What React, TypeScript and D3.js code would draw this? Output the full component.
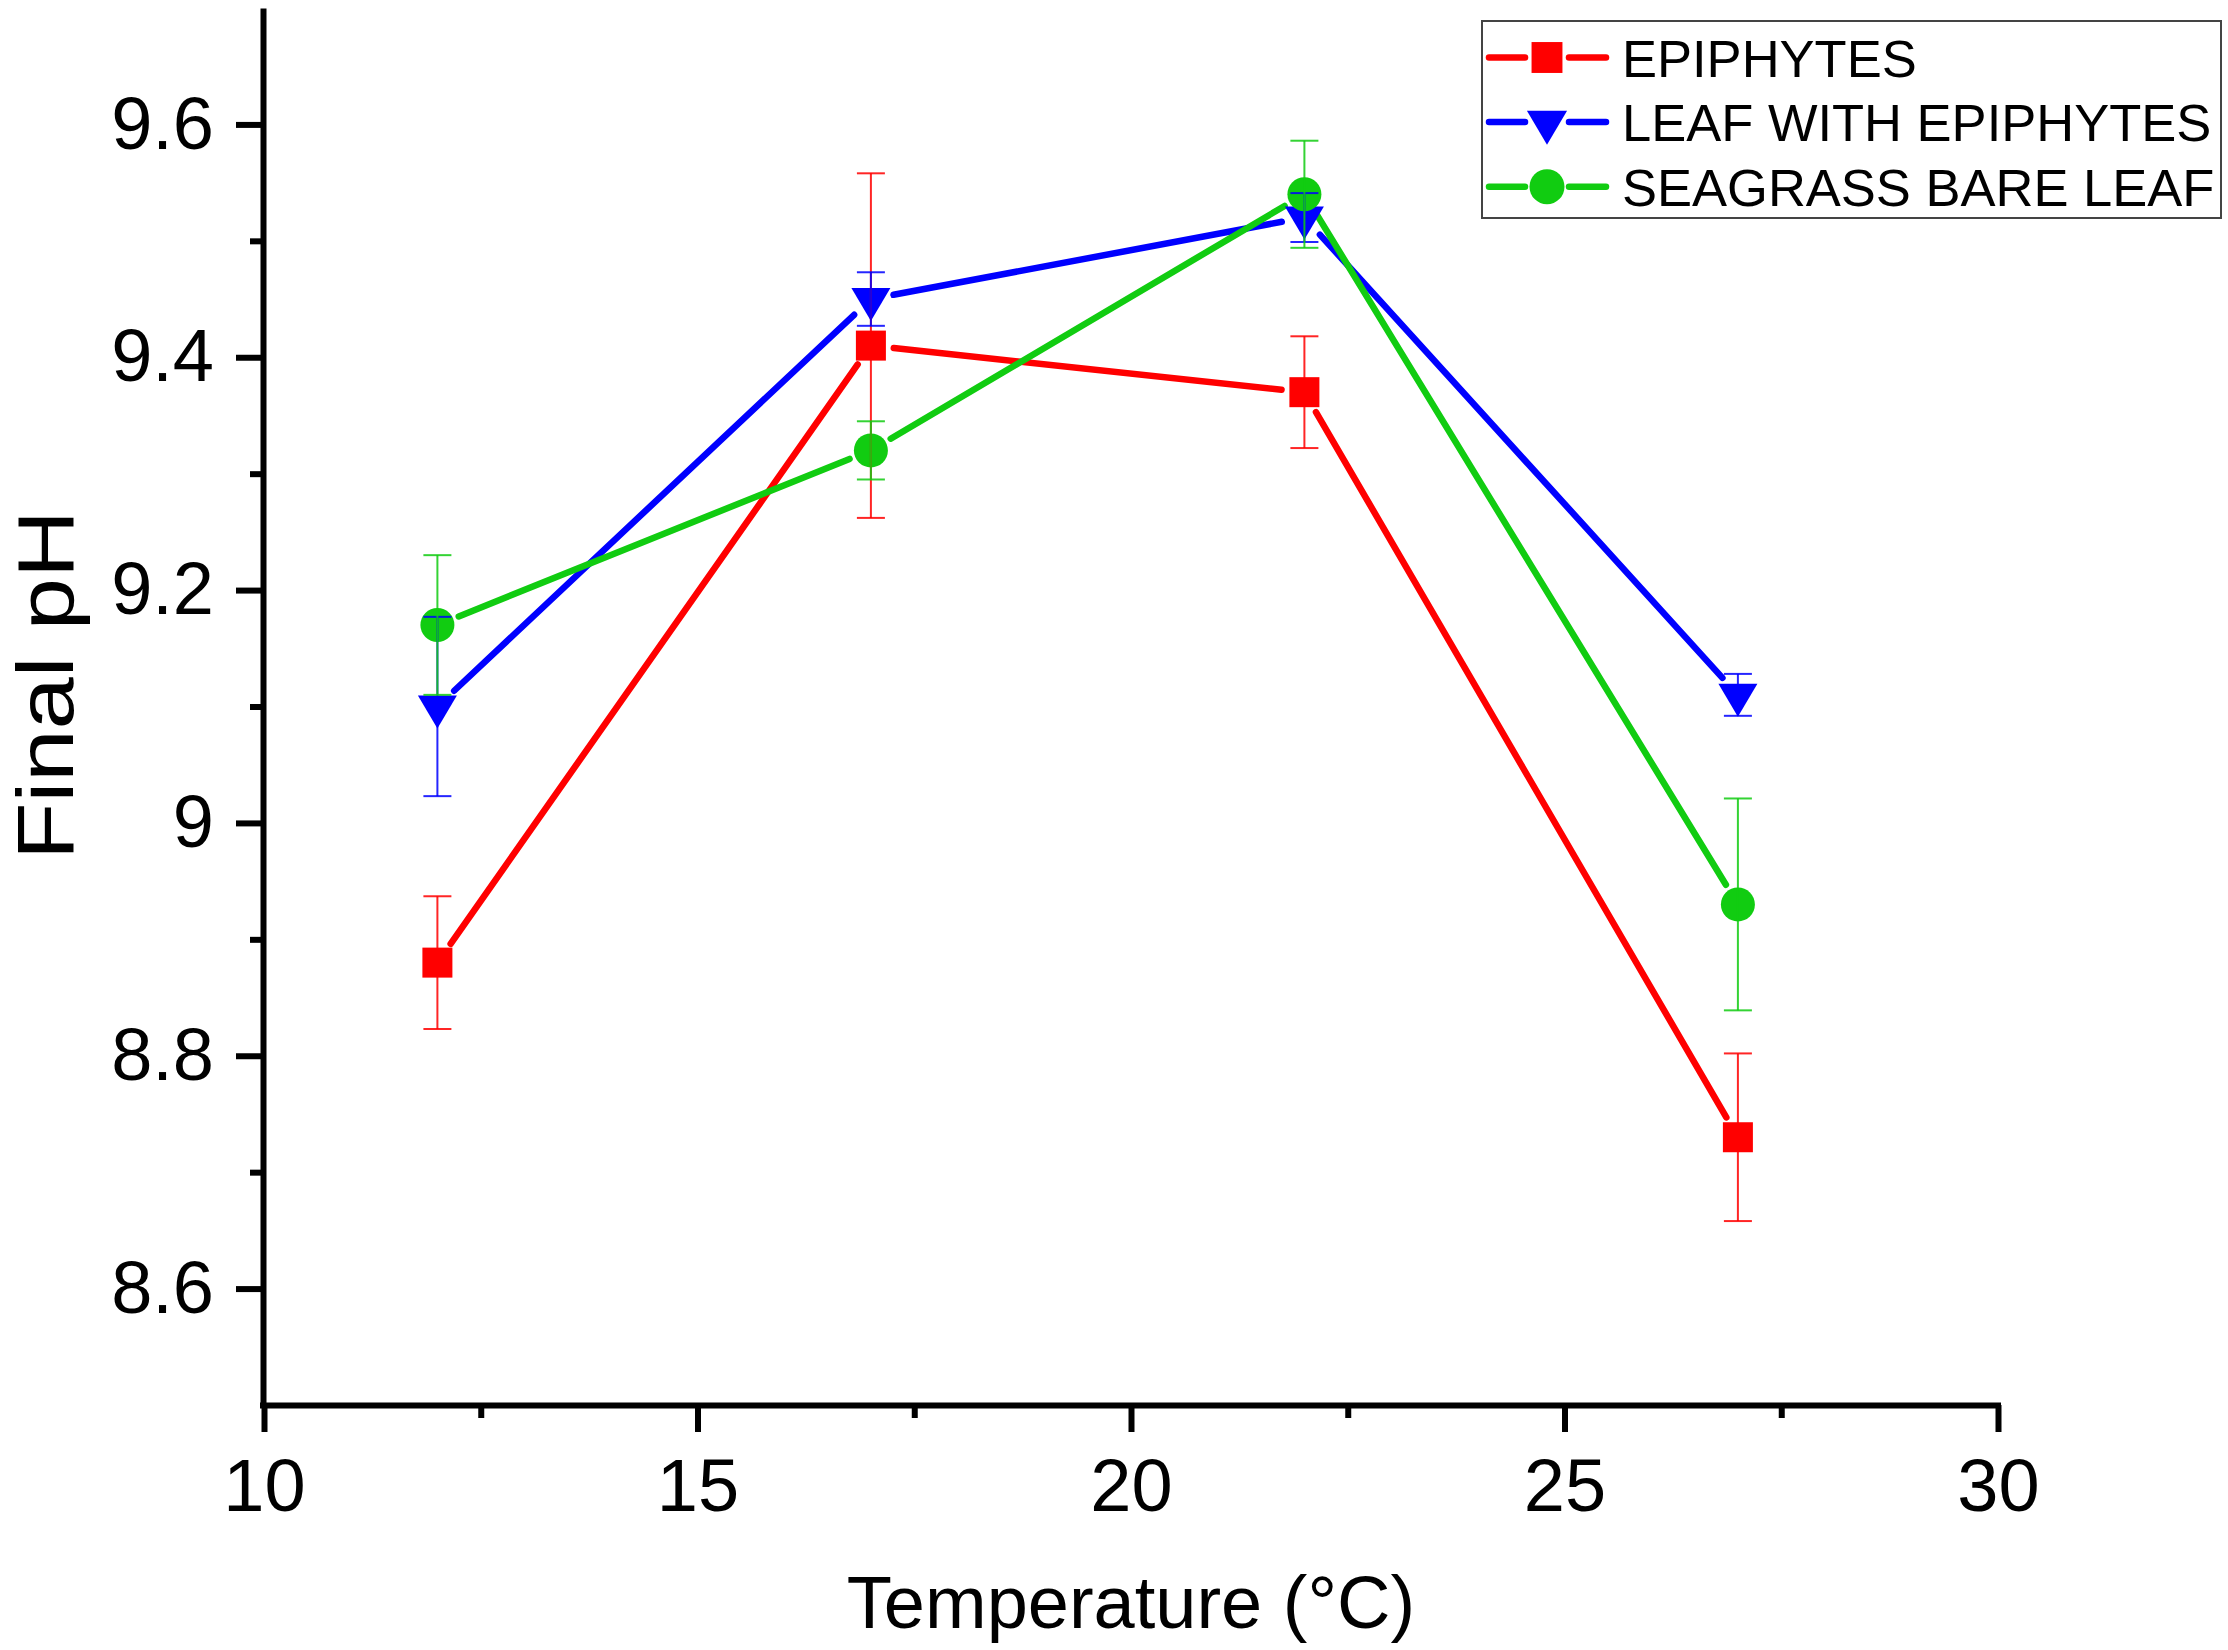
import { useEffect, useRef } from 'react'
import * as d3 from 'd3'

const temps = [12, 17, 22, 27]
const seriesNames = ['EPIPHYTES', 'LEAF WITH EPIPHYTES', 'SEAGRASS BARE LEAF']
const epiphytes = [8.88, 9.41, 9.37, 8.73]
const epiphytesErr = [0.057, 0.148, 0.048, 0.072]
const leafWithEpi = [9.1, 9.45, 9.52, 9.11]
const leafWithEpiErr = [0.077, 0.023, 0.021, 0.018]
const bareLeaf = [9.17, 9.32, 9.54, 8.93]
const bareLeafErr = [0.06, 0.025, 0.046, 0.091]
const seriesColors = ['#ff0000', '#0000ff', '#11cc11']
const seriesSymbols = ['square', 'triangle', 'circle']

const xTicks = [10, 15, 20, 25, 30]
const xMinor = [12.5, 17.5, 22.5, 27.5]
const yTicks = [8.6, 8.8, 9.0, 9.2, 9.4, 9.6]
const yMinor = [8.7, 8.9, 9.1, 9.3, 9.5]

const W = 2228, H = 1650
const FONT = '"Liberation Sans", Arial, Helvetica, sans-serif'

function drawSymbol(g: any, kind: string, cx: number, cy: number, color: string, size = 1) {
  if (kind === 'square') {
    const s = 30 * size
    g.append('rect').attr('x', cx - s / 2).attr('y', cy - s / 2).attr('width', s).attr('height', s).attr('fill', color)
  } else if (kind === 'triangle') {
    const w = 39 * size, h = 33 * size
    g.append('path')
      .attr('d', `M${cx - w / 2},${cy - h / 3}L${cx + w / 2},${cy - h / 3}L${cx},${cy + (2 * h) / 3}Z`)
      .attr('fill', color)
  } else {
    g.append('circle').attr('cx', cx).attr('cy', cy).attr('r', 17 * size).attr('fill', color)
  }
}

export default function App() {
  const svgRef = useRef<SVGSVGElement>(null)

  useEffect(() => {
    const svg = d3.select(svgRef.current)
    svg.selectAll('*').remove()
    svg.append('rect').attr('width', W).attr('height', H).attr('fill', '#fff')

    const x = d3.scaleLinear().domain([10, 30]).range([264, 1998])
    const y = d3.scaleLinear().domain([8.5, 9.7]).range([1405, 8])

    const values = [epiphytes, leafWithEpi, bareLeaf]
    const errs = [epiphytesErr, leafWithEpiErr, bareLeafErr]

    // Connecting lines, trimmed around the symbols
    const gap = 23
    values.forEach((vals, si) => {
      const pts = temps.map((t, i) => [x(t), y(vals[i])])
      for (let i = 0; i < pts.length - 1; i++) {
        const [x1, y1] = pts[i], [x2, y2] = pts[i + 1]
        const len = Math.hypot(x2 - x1, y2 - y1)
        const ux = (x2 - x1) / len, uy = (y2 - y1) / len
        svg.append('line')
          .attr('x1', x1 + ux * gap).attr('y1', y1 + uy * gap)
          .attr('x2', x2 - ux * gap).attr('y2', y2 - uy * gap)
          .attr('stroke', seriesColors[si]).attr('stroke-width', 6.5).attr('stroke-linecap', 'round')
      }
    })

    // Symbols
    values.forEach((vals, si) => {
      temps.forEach((t, i) => drawSymbol(svg, seriesSymbols[si], x(t), y(vals[i]), seriesColors[si]))
    })

    // Error bars on top
    values.forEach((vals, si) => {
      const c = seriesColors[si]
      temps.forEach((t, i) => {
        const px = x(t)
        const top = y(vals[i] + errs[si][i]), bot = y(vals[i] - errs[si][i])
        svg.append('line').attr('x1', px).attr('x2', px).attr('y1', top).attr('y2', bot)
          .attr('stroke', c).attr('stroke-width', 2).attr('opacity', 0.85)
        ;[top, bot].forEach((yy) => {
          svg.append('line').attr('x1', px - 14).attr('x2', px + 14).attr('y1', yy).attr('y2', yy)
            .attr('stroke', c).attr('stroke-width', 2).attr('opacity', 0.85)
        })
      })
    })

    // Axes
    const styleAxis = (a: any) => {
      a.selectAll('path').attr('stroke', '#000').attr('stroke-width', 6)
      a.selectAll('line').attr('stroke', '#000').attr('stroke-width', 6)
      a.selectAll('text').attr('fill', '#000').attr('font-size', 74).attr('font-family', FONT)
    }

    const yAxis = svg.append('g').attr('transform', 'translate(263,0)')
      .call(d3.axisLeft(y).tickValues(yTicks).tickSize(27).tickSizeOuter(0).tickPadding(22)
        .tickFormat((d: any) => String(+(+d).toFixed(1))))
    styleAxis(yAxis)
    const yMinorAxis = svg.append('g').attr('transform', 'translate(263,0)')
      .call(d3.axisLeft(y).tickValues(yMinor).tickSize(13).tickSizeOuter(0).tickFormat(() => ''))
    styleAxis(yMinorAxis)
    yMinorAxis.select('path').remove()

    const xAxis = svg.append('g').attr('transform', 'translate(0,1405)')
      .call(d3.axisBottom(x).tickValues(xTicks).tickSize(27).tickSizeOuter(0).tickPadding(26)
        .tickFormat((d: any) => String(d)))
    styleAxis(xAxis)
    xAxis.select('path').attr('d', `M${260},0.5H${2001}`)
    const xMinorAxis = svg.append('g').attr('transform', 'translate(0,1405)')
      .call(d3.axisBottom(x).tickValues(xMinor).tickSize(13).tickSizeOuter(0).tickFormat(() => ''))
    styleAxis(xMinorAxis)
    xMinorAxis.select('path').remove()

    // Axis titles
    svg.append('text').attr('x', 1131).attr('y', 1628).attr('text-anchor', 'middle')
      .attr('font-size', 74).attr('font-family', FONT).attr('fill', '#000').text('Temperature (°C)')
    svg.append('text').attr('transform', 'translate(73,685) rotate(-90)').attr('text-anchor', 'middle')
      .attr('font-size', 80).attr('font-family', FONT).attr('fill', '#000')
      .attr('textLength', 350).attr('lengthAdjust', 'spacingAndGlyphs').text('Final pH')

    // Legend
    const lg = svg.append('g')
    lg.append('rect').attr('x', 1482).attr('y', 21).attr('width', 739).attr('height', 197)
      .attr('fill', '#fff').attr('stroke', '#444').attr('stroke-width', 2)
    seriesNames.forEach((name, i) => {
      const cy = 57.5 + i * 64.6
      const c = seriesColors[i]
      lg.append('line').attr('x1', 1489).attr('x2', 1525).attr('y1', cy).attr('y2', cy)
        .attr('stroke', c).attr('stroke-width', 6.5).attr('stroke-linecap', 'round')
      lg.append('line').attr('x1', 1569).attr('x2', 1606).attr('y1', cy).attr('y2', cy)
        .attr('stroke', c).attr('stroke-width', 6.5).attr('stroke-linecap', 'round')
      drawSymbol(lg, seriesSymbols[i], 1547, cy, c, 1.03)
      lg.append('text').attr('x', 1622).attr('y', cy + 19).attr('font-size', 52.5)
        .attr('font-family', FONT).attr('fill', '#000').text(name)
    })
  }, [])

  return (
    <svg ref={svgRef} width={W} height={H}
      style={{ position: 'absolute', left: 0, top: 0, display: 'block' }} />
  )
}
